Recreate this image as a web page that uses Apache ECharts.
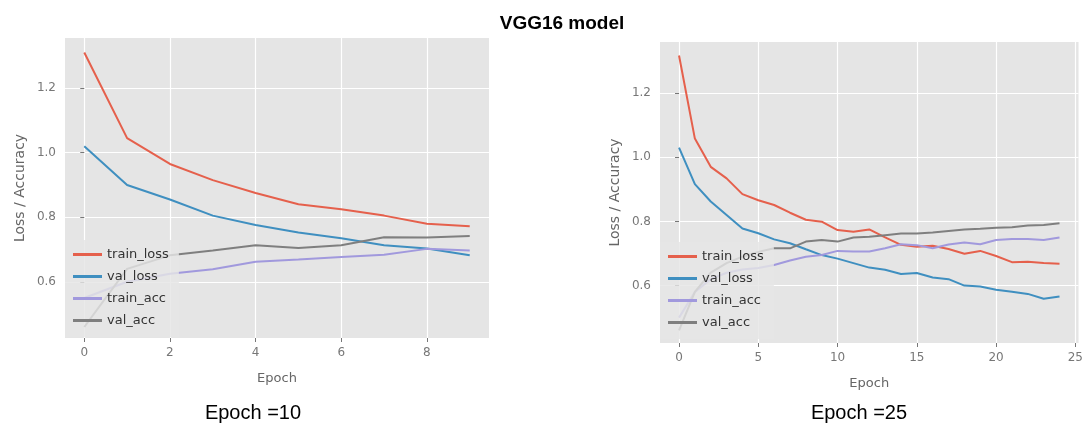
<!DOCTYPE html>
<html>
<head>
<meta charset="utf-8">
<script src="https://cdn.jsdelivr.net/npm/echarts@6/dist/echarts.min.js"></script>
<style>
  html, body { margin: 0; padding: 0; background: #fff; }
  #chart { width: 1086px; height: 424px; }
</style>
</head>
<body>
<div id="chart"></div>
<script>
// 10 epoch run
const epochs10 = [0, 1, 2, 3, 4, 5, 6, 7, 8, 9];
const trainLoss10 = [1.31, 1.045, 0.965, 0.915, 0.875, 0.84, 0.825, 0.805, 0.78, 0.772];
const valLoss10 = [1.02, 0.90, 0.855, 0.805, 0.776, 0.753, 0.735, 0.713, 0.703, 0.682];
const trainAcc10 = [0.55, 0.60, 0.625, 0.639, 0.662, 0.669, 0.677, 0.684, 0.702, 0.697];
const valAcc10 = [0.46, 0.64, 0.682, 0.697, 0.713, 0.705, 0.713, 0.738, 0.737, 0.742];

// 25 epoch run
const epochs25 = [0, 1, 2, 3, 4, 5, 6, 7, 8, 9, 10, 11, 12, 13, 14, 15, 16, 17, 18, 19, 20, 21, 22, 23, 24];
const trainLoss25 = [1.317, 1.058, 0.97, 0.934, 0.885, 0.866, 0.851, 0.827, 0.805, 0.799, 0.773, 0.768, 0.775, 0.75,
  0.727, 0.721, 0.724, 0.714, 0.699, 0.708, 0.692, 0.673, 0.674, 0.67, 0.668];
const valLoss25 = [1.03, 0.916, 0.862, 0.82, 0.778, 0.763, 0.744, 0.732, 0.713, 0.695, 0.684, 0.67, 0.656, 0.649,
  0.636, 0.639, 0.625, 0.62, 0.6, 0.597, 0.587, 0.581, 0.574, 0.559, 0.566];
const trainAcc25 = [0.50, 0.58, 0.62, 0.64, 0.65, 0.655, 0.664, 0.678, 0.69, 0.695, 0.708, 0.706, 0.706, 0.716,
  0.729, 0.726, 0.716, 0.728, 0.734, 0.729, 0.742, 0.745, 0.745, 0.742, 0.75];
const valAcc25 = [0.46, 0.58, 0.64, 0.67, 0.69, 0.705, 0.716, 0.716, 0.737, 0.742, 0.737, 0.75, 0.752, 0.757,
  0.762, 0.762, 0.765, 0.77, 0.775, 0.777, 0.78, 0.782, 0.787, 0.789, 0.794];

const seriesNames = ['train_loss', 'val_loss', 'train_acc', 'val_acc'];
const colors = ['#e5604c', '#3f8fc0', '#a199dd', '#7f7f7f'];
const yTicks = [0.6, 0.8, 1.0, 1.2];
const xTicks10 = [0, 2, 4, 6, 8];
const xTicks25 = [0, 5, 10, 15, 20, 25];

const tickFont = 'DejaVu Sans';

function pairs(xs, ys) {
  return xs.map((x, i) => [x, ys[i]]);
}

function makeXAxis(grid, min, max, ticks) {
  return {
    type: 'value',
    gridIndex: grid,
    min: min,
    max: max,
    name: 'Epoch',
    nameLocation: 'middle',
    nameGap: 34,
    nameTextStyle: { color: '#666', fontSize: 13, fontFamily: tickFont },
    axisLine: { show: false },
    axisTick: { show: true, customValues: ticks, length: 4, lineStyle: { color: '#777' } },
    axisLabel: { customValues: ticks, color: '#777', fontSize: 12, fontFamily: tickFont, margin: 9 },
    splitLine: { show: true, lineStyle: { color: '#ffffff', width: 1.2 } }
  };
}

function makeYAxis(grid, min, max) {
  return {
    type: 'value',
    gridIndex: grid,
    min: min,
    max: max,
    name: 'Loss / Accuracy',
    nameLocation: 'middle',
    nameGap: 38,
    nameTextStyle: { color: '#666', fontSize: 14, fontFamily: tickFont },
    axisLine: { show: false },
    axisTick: { show: true, customValues: yTicks, length: 4, lineStyle: { color: '#777' } },
    axisLabel: {
      customValues: yTicks, color: '#777', fontSize: 12, fontFamily: tickFont, margin: 9,
      formatter: v => v.toFixed(1)
    },
    splitLine: { show: true, lineStyle: { color: '#ffffff', width: 1.2 } }
  };
}

function makeSeries(grid, xs, lists) {
  return lists.map((ys, i) => ({
    name: seriesNames[i],
    type: 'line',
    xAxisIndex: grid,
    yAxisIndex: grid,
    data: pairs(xs, ys),
    showSymbol: false,
    symbol: 'none',
    color: colors[i],
    lineStyle: { width: 2, color: colors[i] },
    animation: false
  }));
}

function makeLegend(left, top) {
  return {
    orient: 'vertical',
    left: left,
    top: top,
    data: seriesNames,
    icon: 'rect',
    itemWidth: 29,
    itemHeight: 3,
    itemGap: 9,
    padding: [8, 10, 10, 8],
    backgroundColor: 'rgba(229,229,229,0.82)',
    selectedMode: false,
    textStyle: { color: '#333', fontSize: 13, fontFamily: tickFont }
  };
}

const chart = echarts.init(document.getElementById('chart'));
chart.setOption({
  backgroundColor: '#ffffff',
  animation: false,
  title: [
    {
      text: 'VGG16 model', left: 557, top: 9, textAlign: 'center',
      textStyle: { fontFamily: 'Liberation Sans', fontWeight: 'bold', fontSize: 19, color: '#000' }
    },
    {
      text: 'Epoch =10', left: 248, top: 398, textAlign: 'center',
      textStyle: { fontFamily: 'Liberation Sans', fontWeight: 'normal', fontSize: 20, color: '#000' }
    },
    {
      text: 'Epoch =25', left: 854, top: 398, textAlign: 'center',
      textStyle: { fontFamily: 'Liberation Sans', fontWeight: 'normal', fontSize: 20, color: '#000' }
    }
  ],
  grid: [
    { left: 65, top: 38, width: 424, height: 300, show: true, backgroundColor: '#e5e5e5', borderWidth: 0 },
    { left: 660, top: 42, width: 420, height: 301, show: true, backgroundColor: '#e5e5e5', borderWidth: 0 }
  ],
  xAxis: [
    makeXAxis(0, -0.45, 9.45, xTicks10),
    makeXAxis(1, -1.2, 25.2, xTicks25)
  ],
  yAxis: [
    makeYAxis(0, 0.426, 1.355),
    makeYAxis(1, 0.421, 1.359)
  ],
  legend: [
    makeLegend(65, 240),
    makeLegend(660, 242)
  ],
  series: [
    ...makeSeries(0, epochs10, [trainLoss10, valLoss10, trainAcc10, valAcc10]),
    ...makeSeries(1, epochs25, [trainLoss25, valLoss25, trainAcc25, valAcc25])
  ]
});
</script>
</body>
</html>
